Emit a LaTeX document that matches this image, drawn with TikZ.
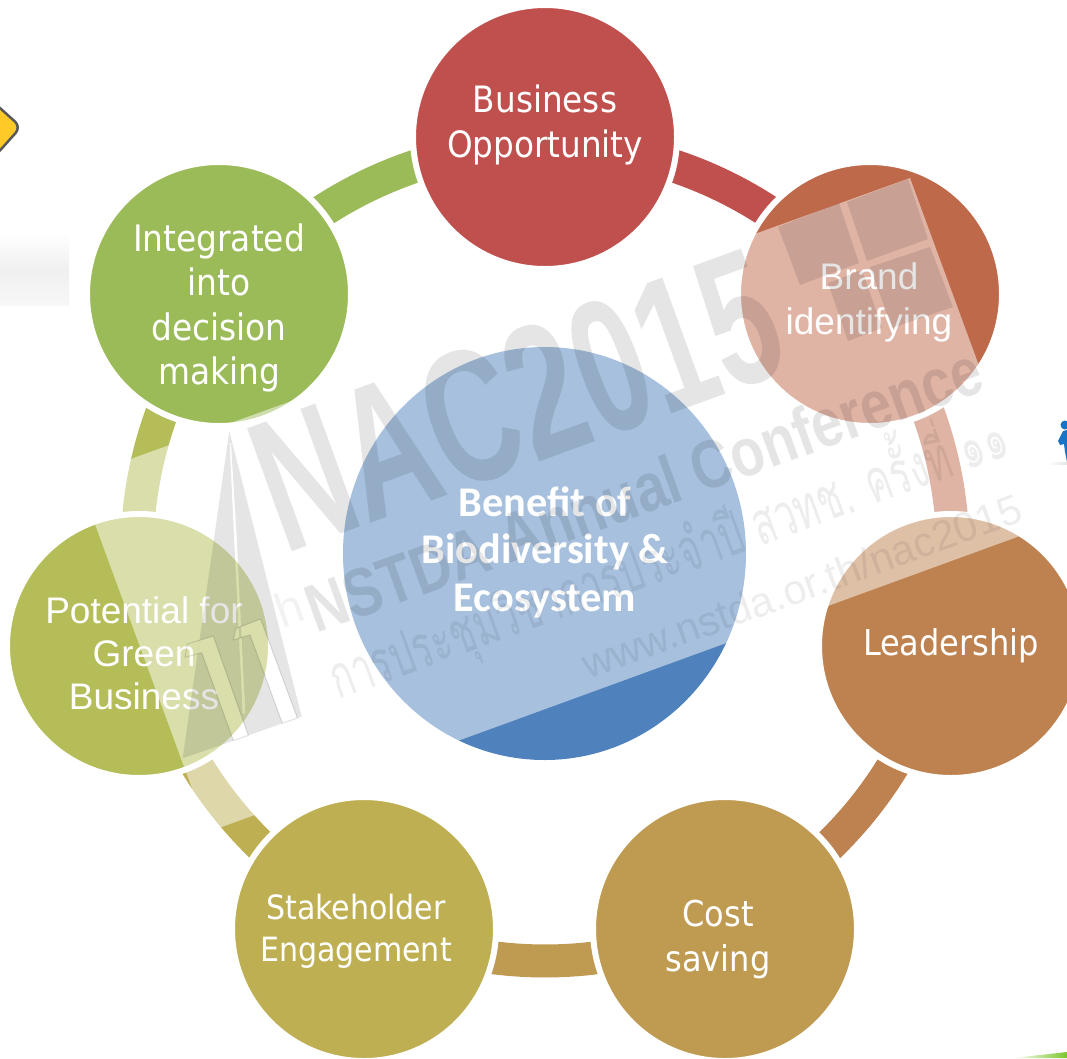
\documentclass[tikz,border=0pt]{standalone}
\usepackage{fontspec}
\usetikzlibrary{shapes.geometric}
\setmainfont{Liberation Sans}
\newfontfamily\tahomalike{DejaVu Sans Condensed}
\newfontfamily\calibrilike{Carlito}
\newfontfamily\thaifont[Script=Thai]{Loma}
\definecolor{cBus}{HTML}{C0504D}
\definecolor{cBra}{HTML}{BF694B}
\definecolor{cLea}{HTML}{BE8250}
\definecolor{cCos}{HTML}{BF9B52}
\definecolor{cSta}{HTML}{BEAF53}
\definecolor{cPot}{HTML}{B4BD57}
\definecolor{cInt}{HTML}{9BBB59}
\definecolor{cCen}{HTML}{4F81BD}
\definecolor{cSign}{HTML}{FFC928}
\definecolor{cPerson}{HTML}{1A73C4}
\definecolor{cLeaf}{HTML}{7CC62B}
\tikzset{
  bubble/.style={circle,draw=white,line width=6pt,minimum size=264pt,inner sep=0pt,outer sep=0pt},
  hubnode/.style={ellipse,minimum width=403pt,minimum height=413pt,inner sep=0pt,outer sep=0pt,fill=cCen},
  seg/.style={line width=33pt},
  lab/.style n args={2}{text=white,align=center,inner sep=0pt,font=\tahomalike\fontsize{#1}{#2}\selectfont},
  labarial/.style={text=white,align=center,inner sep=0pt,font=\fontsize{37}{#1}\selectfont},
  hublab/.style={text=white,align=center,inner sep=0pt,font=\calibrilike\bfseries\fontsize{42.3}{47.5}\selectfont},
  wm/.style={rotate=20,anchor=base west,inner sep=0pt,text=black,text opacity=#1},
  wmfill/.style={fill=black,fill opacity=.1}
}
\begin{document}
\begin{tikzpicture}[x=1pt,y=-1pt]
\path[use as bounding box,clip] (0,0) rectangle (1067,1058);
\fill[white] (0,0) rectangle (1067,1058);
% side fragments
\shade[top color=white,bottom color=black!3,middle color=black!6] (0,233) rectangle (69,305);
\draw[fill=cSign,draw=black!65,line width=2.5pt,rounded corners=8pt] (-40,72) -- (21,127) -- (-40,195) -- cycle;
\fill[cPerson] (1065,425) circle (4.5pt) (1063,431) -- (1067,430) -- (1067,462) -- (1065,452) -- (1064,444) -- (1060,445) -- (1058,441) -- cycle;
\shade[left color=white,right color=black!10] (1048,462) rectangle (1067,464);
\shade[left color=white,right color=cLeaf] (1013,1058) -- (1067,1052) -- (1067,1058) -- cycle;
% ring
\coordinate (ringc) at (545,553);
\draw[seg,cBus] (ringc) ++(90:408pt) arc[start angle=90,end angle=38.57,radius=408pt];
\draw[seg,cBra] (ringc) ++(38.57:408pt) arc[start angle=38.57,end angle=-12.86,radius=408pt];
\draw[seg,cLea] (ringc) ++(-12.86:408pt) arc[start angle=-12.86,end angle=-64.29,radius=408pt];
\draw[seg,cCos] (ringc) ++(-64.29:408pt) arc[start angle=-64.29,end angle=-115.71,radius=408pt];
\draw[seg,cSta] (ringc) ++(-115.71:408pt) arc[start angle=-115.71,end angle=-167.14,radius=408pt];
\draw[seg,cPot] (ringc) ++(-167.14:408pt) arc[start angle=-167.14,end angle=-218.57,radius=408pt];
\draw[seg,cInt] (ringc) ++(-218.57:408pt) arc[start angle=-218.57,end angle=-270,radius=408pt];
% circles above the ring
\node[bubble,fill=cBus] (n1) at (545,137) {};
\node[bubble,fill=cBra] (n2) at (870,294) {};
\node[bubble,fill=cLea] (n3) at (951,646) {};
\node[bubble,fill=cCos] (n4) at (725,929) {};
\node[bubble,fill=cSta] (n5) at (364,929) {};
\node[bubble,fill=cPot] (n6) at (139,646) {};
\node[bubble,fill=cInt] (n7) at (219,294) {};
\node[hubnode] (hub) at (544.5,553.5) {};
% labels
\node[lab={36.3}{45}] (t1) at (545,125) {Business\\Opportunity};
\node[labarial=45] (t2) at (869,302) {Brand\\identifying};
\node[lab={35.6}{45}] (t3) at (951,646) {Leadership};
\node[lab={35.6}{45}] (t4) at (718,939) {Cost\\saving};
\node[lab={33.4}{42}] (t5) at (356,931) {Stakeholder\\Engagement};
\node[labarial=43] (t6) at (144,653) {Potential for\\Green\\Business};
\node[lab={36.5}{44.6}] (t7) at (219,308) {Integrated\\into\\decision\\making};
\node[hublab] (t0) at (545,552) {Benefit of\\Biodiversity \&\\Ecosystem};
% translucent sheet
\fill[white,fill opacity=.5] (78,478) -- (910,178) -- (1039,529) -- (208,832) -- cycle;
% watermark
\node[wm=.1] (wm1) at (284,555) {\scalebox{.65}[1]{\bfseries\fontsize{190}{190}\selectfont NAC2015}};
\node[wm=.1] (wm2) at (316,634) {\scalebox{.815}[1]{\bfseries\fontsize{68}{68}\selectfont NSTDA Annual Conference}};
\node[wm=.05] (wm3) at (282,629) {\fontsize{48}{48}\selectfont h};
\node[wm=.07] (wm4) at (338,700) {\scalebox{.62}[1]{\thaifont\fontsize{60}{60}\selectfont การประชุมวิชาการประจำปี สวทช. ครั้งที่ ๑๑}};
\node[wm=.07] (wm5) at (588,680) {\fontsize{41.6}{41.6}\selectfont www.nstda.or.th/nac2015};
% window grid
\fill[wmfill] (778,227) -- (839,203) -- (859,263) -- (800,285) -- cycle;
\fill[wmfill] (847,202) -- (908,179) -- (928,239) -- (867,261) -- cycle;
\fill[wmfill] (870,267) -- (930,247) -- (953,307) -- (892,328) -- cycle;
\fill[wmfill] (828,283) -- (862,270) -- (882,328) -- (848,341) -- cycle;
% logo
\begin{scope}[x=.33333pt,y=-.33333pt,shift={(170pt,-420pt)}]
\fill[wmfill,even odd rule] (178,33) -- (38,1015) -- (190,962) -- (95,698) -- (82,702) -- (89,660) -- (130,648) -- (235,946) -- (337,910) -- (240,645) -- (190,660) -- (198,625) -- (272,597) -- (382,894) -- (395,890) -- cycle
  (179,70) -- (183,70) -- (200,350) -- (226,880) -- (218,880) -- (192,350) -- cycle;
\draw[black,draw opacity=.12,line width=1pt] (45,712) -- (52,672) -- (130,648) -- (235,946) -- (190,962) -- (95,698) -- cycle;
\draw[black,draw opacity=.12,line width=1pt] (190,660) -- (198,625) -- (272,597) -- (382,894) -- (337,910) -- (240,645) -- cycle;
\end{scope}
\end{tikzpicture}
\end{document}
